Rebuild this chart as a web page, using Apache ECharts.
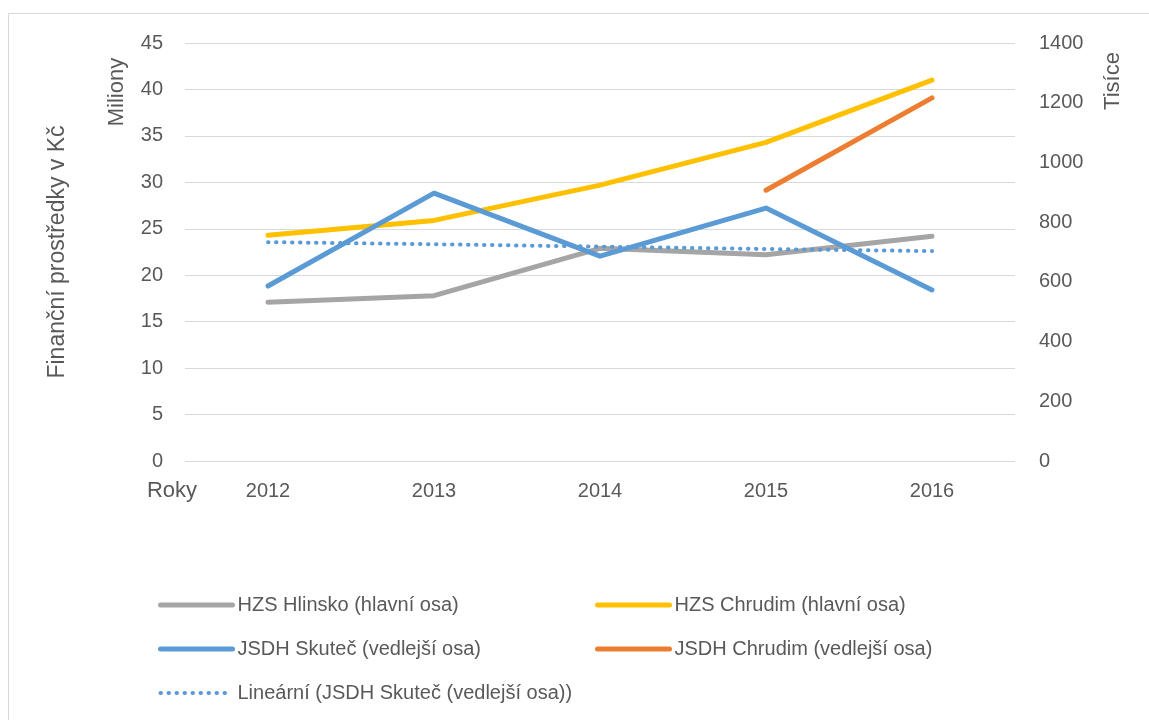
<!DOCTYPE html>
<html lang="cs">
<head>
<meta charset="UTF-8">
<title>Finanční prostředky</title>
<script src="https://cdn.jsdelivr.net/npm/echarts@6/dist/echarts.min.js"></script>
<style>
  html, body { margin: 0; padding: 0; background: #fff; }
  #frame { position: absolute; left: 8px; top: 13px; width: 1160px; height: 720px; border: 1px solid #D9D9D9; }
  #chart { position: absolute; left: 0; top: 0; width: 1149px; height: 720px; }
</style>
</head>
<body>
<div id="frame"></div>
<div id="chart"></div>
<script>
  // data
  const years = ["2012", "2013", "2014", "2015", "2016"];
  const hzsHlinsko = [17.1, 17.8, 22.9, 22.2, 24.2];      // Miliony, main axis
  const hzsChrudim = [24.3, 25.9, 29.7, 34.3, 41.0];      // Miliony, main axis
  const jsdhSkutec = [586, 897, 686, 847, 573];           // Tisíce, secondary axis
  const jsdhChrudim = [null, null, null, 907, 1216];      // Tisíce, secondary axis
  const trendSkutec = [733, 726, 718, 710, 703];          // linear trend of Skuteč

  const font = '"Liberation Sans", Arial, sans-serif';
  const grey = "#595959";

  const chart = echarts.init(document.getElementById("chart"));

  const legendBase = {
    orient: "vertical",
    top: 588,
    itemWidth: 72, itemHeight: 14, itemGap: 20,
    itemStyle: { opacity: 0 },
    lineStyle: { width: 5, cap: "round" },
    textStyle: { color: grey, fontSize: 20, lineHeight: 24, fontFamily: font }
  };

  const option = {
    animation: false,
    textStyle: { fontFamily: font },
    grid: { left: 185, right: 134, top: 43, bottom: 259 },
    xAxis: {
      type: "category",
      data: years,
      boundaryGap: true,
      axisLine: { show: false },
      axisTick: { show: false },
      axisLabel: { color: grey, fontSize: 20, margin: 20 }
    },
    yAxis: [{
      type: "value",
      min: 0, max: 45, interval: 5,
      name: "Finanční prostředky v Kč",
      nameLocation: "middle",
      nameGap: 116,
      nameTextStyle: { color: grey, fontSize: 23 },
      axisLine: { show: false },
      axisTick: { show: false },
      axisLabel: { color: grey, fontSize: 20, margin: 22 },
      splitLine: { lineStyle: { color: "#D9D9D9", width: 1 } }
    }, {
      type: "value",
      min: 0, max: 1400, interval: 200,
      axisLine: { show: false },
      axisTick: { show: false },
      axisLabel: { color: grey, fontSize: 20, margin: 24, formatter: v => String(v) },
      splitLine: { show: false }
    }],
    legend: [Object.assign({}, legendBase, {
      left: 153,
      data: [
        "HZS Hlinsko (hlavní osa)",
        "JSDH Skuteč (vedlejší osa)",
        { name: "Lineární (JSDH Skuteč (vedlejší osa))", lineStyle: { width: 4, type: [0.5, 7.5], cap: "round" } }
      ]
    }), Object.assign({}, legendBase, {
      left: 590,
      data: ["HZS Chrudim (hlavní osa)", "JSDH Chrudim (vedlejší osa)"]
    })],
    graphic: [
      { type: "text", x: 117, y: 92, rotation: Math.PI / 2,
        style: { text: "Miliony", fill: grey, fontSize: 22, fontFamily: font, align: "center", verticalAlign: "middle" } },
      { type: "text", x: 1113, y: 81, rotation: Math.PI / 2,
        style: { text: "Tisíce", fill: grey, fontSize: 22, fontFamily: font, align: "center", verticalAlign: "middle" } },
      { type: "text", x: 172, y: 491,
        style: { text: "Roky", fill: grey, fontSize: 22, fontFamily: font, align: "center", verticalAlign: "middle" } }
    ],
    series: [{
      name: "HZS Hlinsko (hlavní osa)",
      type: "line", yAxisIndex: 0, data: hzsHlinsko,
      symbol: "none", color: "#A5A5A5",
      lineStyle: { width: 5, cap: "round", join: "round" }
    }, {
      name: "HZS Chrudim (hlavní osa)",
      type: "line", yAxisIndex: 0, data: hzsChrudim,
      symbol: "none", color: "#FFC000",
      lineStyle: { width: 5, cap: "round", join: "round" }
    }, {
      name: "JSDH Skuteč (vedlejší osa)",
      type: "line", yAxisIndex: 1, data: jsdhSkutec,
      symbol: "none", color: "#5B9BD5",
      lineStyle: { width: 5, cap: "round", join: "round" }
    }, {
      name: "JSDH Chrudim (vedlejší osa)",
      type: "line", yAxisIndex: 1, data: jsdhChrudim,
      symbol: "none", color: "#ED7D31",
      lineStyle: { width: 5, cap: "round", join: "round" }
    }, {
      name: "Lineární (JSDH Skuteč (vedlejší osa))",
      type: "line", yAxisIndex: 1, data: trendSkutec,
      symbol: "none", color: "#5B9BD5",
      lineStyle: { width: 4, type: [0.5, 7.5], cap: "round" }
    }]
  };

  chart.setOption(option);
</script>
</body>
</html>
